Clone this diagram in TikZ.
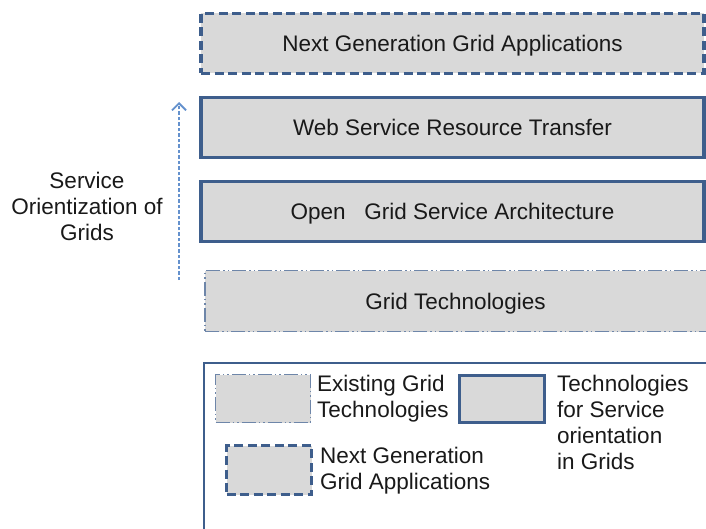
\documentclass[tikz,border=0pt]{standalone}
\usepackage{fontspec}
\setmainfont{Liberation Sans}
\usetikzlibrary{arrows.meta}
\begin{document}
\begin{tikzpicture}[x=1pt,y=-1pt]
\definecolor{bord}{RGB}{62,94,140}
\definecolor{arrcol}{RGB}{100,145,205}
\definecolor{boxfill}{RGB}{217,217,217}
\definecolor{txt}{RGB}{25,25,25}
\tikzset{
  layer/.style={fill=boxfill, draw=bord, line width=3.2pt, minimum height=58pt, inner sep=0pt,
    text=txt, font=\fontsize{22.5}{26}\selectfont, text height=16pt, text depth=0pt},
  nextgen/.style={layer, dash pattern=on 9pt off 4.5pt},
  soa/.style={layer},
  existdash/.style={line width=1.4pt, draw=bord!75, dash pattern=on 14pt off 3pt on 1.5pt off 3pt on 1.5pt off 3pt},
  existing/.style={layer, existdash},
  legtext/.style={anchor=north west, inner sep=0pt, align=left, text=txt, font=\fontsize{22.5}{26}\selectfont},
  sidetext/.style={inner sep=0pt, align=center, text=txt, font=\fontsize{22.5}{26}\selectfont},
  legbox/.style={fill=boxfill, draw=bord, inner sep=0pt, anchor=north west}
}
\useasboundingbox (0,0) rectangle (706,529);
\clip (0,0) rectangle (706,529);

% layers
\node[nextgen, minimum width=503pt, minimum height=60pt] (nga) at (452.5,43.5) {Next Generation Grid Applications};
\node[soa, minimum width=503pt, minimum height=60pt] (wsrt) at (452.5,127.5) {Web Service Resource Transfer};
\node[soa, minimum width=503pt, minimum height=60pt] (ogsa) at (452.5,211.5) {Open\ \ \ Grid Service Architecture};
\node[existing, minimum width=510pt, minimum height=61pt] (gt) at (460,301) {\hspace*{-9pt}Grid Technologies};

% side arrow and label
\coordinate (abot) at (179,280);
\coordinate (atop) at (179,102);
\draw[arrcol, line width=1.8pt, dash pattern=on 3.5pt off 2pt, -{Straight Barb[length=7pt,width=14pt,line width=1.8pt]}] (abot) -- (atop);
\node[sidetext] (sog) at (87,206.5) {Service\\Orientization of\\Grids};

% legend
\node[draw=bord, line width=1.8pt, anchor=north west, minimum width=540pt, minimum height=200pt, inner sep=0pt] (legend) at (203,362) {};
\node[legbox, existdash, minimum width=95pt, minimum height=48pt] (lex) at (215,374) {};
\node[legtext] (lext) at (317,375) {Existing Grid\\Technologies};
\node[legbox, line width=3.2pt, minimum width=85pt, minimum height=47pt] (lsoa) at (458,374) {};
\node[legtext] (lsoat) at (557,375) {Technologies\\for Service\\orientation\\in Grids};
\node[legbox, line width=3.2pt, dash pattern=on 9pt off 4.5pt, minimum width=85pt, minimum height=49pt] (lng) at (225,444) {};
\node[legtext] (lngt) at (320,447) {Next Generation\\Grid Applications};
\end{tikzpicture}
\end{document}
